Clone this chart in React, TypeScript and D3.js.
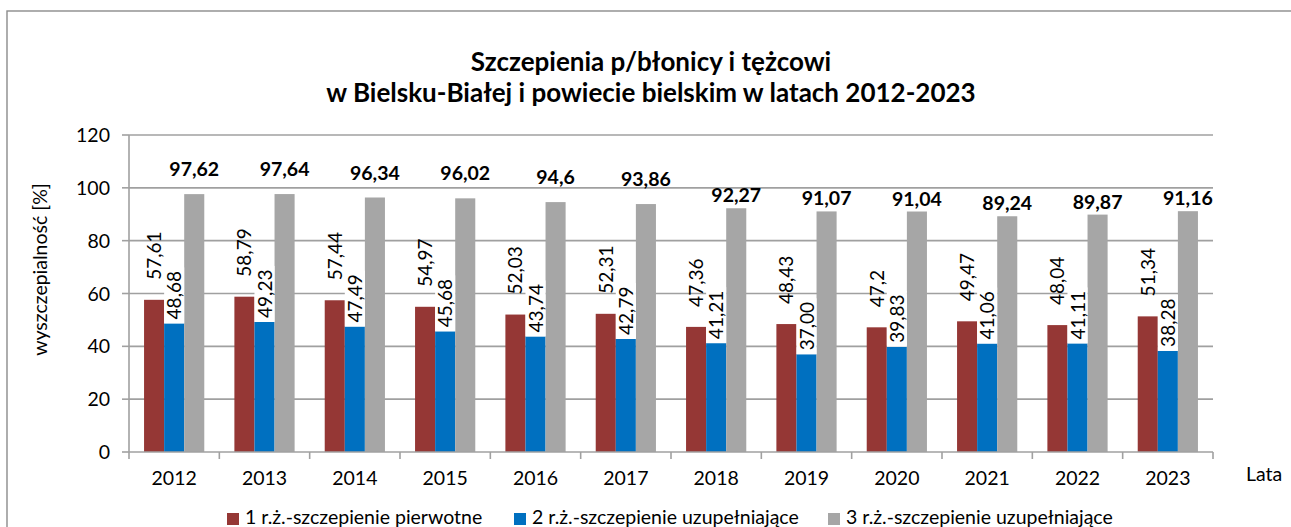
import * as d3 from 'd3';
import React from 'react';

// data
const years = ['2012', '2013', '2014', '2015', '2016', '2017', '2018', '2019', '2020', '2021', '2022', '2023'];
const dose1 = [57.61, 58.79, 57.44, 54.97, 52.03, 52.31, 47.36, 48.43, 47.2, 49.47, 48.04, 51.34];
const dose2 = [48.68, 49.23, 47.49, 45.68, 43.74, 42.79, 41.21, 37.0, 39.83, 41.06, 41.11, 38.28];
const dose3 = [97.62, 97.64, 96.34, 96.02, 94.6, 93.86, 92.27, 91.07, 91.04, 89.24, 89.87, 91.16];
const labels1 = ['57,61', '58,79', '57,44', '54,97', '52,03', '52,31', '47,36', '48,43', '47,2', '49,47', '48,04', '51,34'];
const labels2 = ['48,68', '49,23', '47,49', '45,68', '43,74', '42,79', '41,21', '37,00', '39,83', '41,06', '41,11', '38,28'];
const labels3 = ['97,62', '97,64', '96,34', '96,02', '94,6', '93,86', '92,27', '91,07', '91,04', '89,24', '89,87', '91,16'];
const seriesNames = [
  '1 r.ż.-szczepienie pierwotne',
  '2 r.ż.-szczepienie uzupełniające',
  '3 r.ż.-szczepienie uzupełniające',
];
const yTicks = [0, 20, 40, 60, 80, 100, 120];

const colors = ['#953735', '#0070C0', '#A6A6A6'];
const font = 'Lato, "Open Sans", sans-serif';
const gridColor = '#A0A0A0';
const fs = 19.5;

const App = () => {
  const left = 129;
  const right = 1213;
  const top = 135;
  const bottom = 452;

  const x0 = d3.scaleBand().domain(years).range([left, right]).padding(0);
  const bw = x0.bandwidth();
  const x1 = d3.scaleBand<number>().domain([0, 1, 2]).range([bw / 6, (bw * 5) / 6]).padding(0);
  const barW = x1.bandwidth();
  const y = d3.scaleLinear().domain([0, 120]).range([bottom, top]);

  const series = [dose1, dose2, dose3];

  return (
    <svg width={1291} height={527} style={{ position: 'absolute', left: 0, top: 0 }} fontFamily={font}>
      <rect x={0} y={0} width={1291} height={527} fill="#fff" />
      <rect x={7} y={11} width={1320} height={600} fill="#fff" stroke="#8c8c8c" strokeWidth={1.4} />

      {/* title */}
      <text x={651} y={71} textAnchor="middle" fontSize={26} fontWeight="bold">
        Szczepienia p/błonicy i tężcowi
      </text>
      <text x={651} y={102} textAnchor="middle" fontSize={26} fontWeight="bold">
        w Bielsku-Białej i powiecie bielskim w latach 2012-2023
      </text>

      {/* grid + y axis */}
      {yTicks.map((t) => (
        <g key={t}>
          {t > 0 && <line x1={left} x2={right} y1={y(t)} y2={y(t)} stroke={gridColor} strokeWidth={1.6} />}
          <line x1={left - 7} x2={left} y1={y(t)} y2={y(t)} stroke={gridColor} strokeWidth={1.6} />
          <text x={110} y={y(t)} dy="0.36em" textAnchor="end" fontSize={fs}>
            {t}
          </text>
        </g>
      ))}
      <line x1={left} x2={left} y1={top} y2={bottom} stroke={gridColor} strokeWidth={1.6} />
      <text transform={`translate(47,${(top + bottom) / 2 - 24}) rotate(-90)`} textAnchor="middle" fontSize={fs}>
        wyszczepialność [%]
      </text>

      {/* bars */}
      {years.map((yr, i) => {
        const gx = x0(yr) as number;
        return (
          <g key={yr}>
            {series.map((s, k) => (
              <rect
                key={k}
                x={gx + (x1(k) as number)}
                y={y(s[i])}
                width={barW}
                height={bottom - y(s[i])}
                fill={colors[k]}
              />
            ))}
          </g>
        );
      })}

      {/* x axis */}
      <line x1={left} x2={right} y1={bottom} y2={bottom} stroke={gridColor} strokeWidth={1.6} />
      {years.map((yr) => (
        <line key={yr} x1={x0(yr)} x2={x0(yr)} y1={bottom} y2={bottom + 7} stroke={gridColor} strokeWidth={1.6} />
      ))}
      <line x1={right} x2={right} y1={bottom} y2={bottom + 7} stroke={gridColor} strokeWidth={1.6} />
      {years.map((yr) => (
        <text key={yr} x={(x0(yr) as number) + bw / 2} y={485} textAnchor="middle" fontSize={fs}>
          {yr}
        </text>
      ))}
      <text x={1246} y={481} fontSize={fs}>
        Lata
      </text>

      {/* data labels */}
      {years.map((yr, i) => {
        const gx = x0(yr) as number;
        const c1 = gx + (x1(0) as number) + barW / 2;
        const c2 = gx + (x1(1) as number) + barW / 2;
        const c3 = gx + (x1(2) as number) + barW / 2;
        const y2 = y(dose2[i]);
        return (
          <g key={yr}>
            <rect x={c2 - barW / 2} y={y2 - 56} width={barW} height={56} fill="#fff" />
            <text transform={`translate(${c2 + 7},${y2 - 4}) rotate(-90)`} fontSize={19}>
              {labels2[i]}
            </text>
            <text transform={`translate(${c1 + 7},${y(dose1[i]) - 20}) rotate(-90)`} fontSize={19}>
              {labels1[i]}
            </text>
            <text x={c3} y={y(dose3[i]) - (i < 6 ? 18 : 6)} textAnchor="middle" fontSize={fs} fontWeight="bold">
              {labels3[i]}
            </text>
          </g>
        );
      })}

      {/* legend */}
      {seriesNames.map((name, k) => {
        const lx = [227, 514, 828][k];
        return (
          <g key={name}>
            <rect x={lx} y={513} width={12} height={12} fill={colors[k]} />
            <text x={lx + 18} y={524} fontSize={fs}>
              {name}
            </text>
          </g>
        );
      })}
    </svg>
  );
};

export default App;
